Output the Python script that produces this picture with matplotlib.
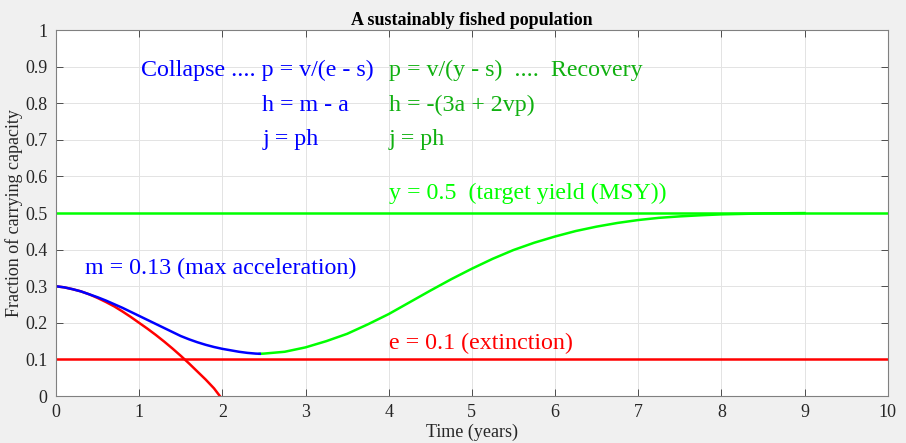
import numpy as np
import matplotlib.pyplot as plt

# Values
# blue: collapse branch, controlled descent
t_blue = [0, 0.1, 0.2, 0.3, 0.4, 0.5, 0.6, 0.7, 0.8, 0.9, 1.0, 1.1, 1.2, 1.3,
          1.4, 1.5, 1.6, 1.7, 1.8, 1.9, 2.0, 2.1, 2.2, 2.3, 2.4, 2.45]
p_blue = [0.300, 0.297, 0.292, 0.286, 0.278, 0.270, 0.261, 0.251, 0.241, 0.230,
          0.219, 0.208, 0.197, 0.186, 0.175, 0.164, 0.155, 0.147, 0.140, 0.134,
          0.129, 0.125, 0.121, 0.118, 0.116, 0.1155]

# red: uncontrolled collapse to zero
t_red = [0, 0.1, 0.2, 0.3, 0.4, 0.5, 0.6, 0.7, 0.8, 0.9, 1.0, 1.1, 1.2, 1.3,
         1.4, 1.5, 1.6, 1.7, 1.8, 1.9, 1.97]
p_red = [0.300, 0.297, 0.292, 0.286, 0.278, 0.268, 0.257, 0.245, 0.231, 0.216,
         0.200, 0.184, 0.167, 0.149, 0.130, 0.110, 0.089, 0.067, 0.045, 0.021, 0.0]

# green: recovery back to target yield
t_green = [2.45, 2.5, 2.75, 3.0, 3.25, 3.5, 3.75, 4.0, 4.25, 4.5, 4.75, 5.0, 5.25,
           5.5, 5.75, 6.0, 6.25, 6.5, 6.75, 7.0, 7.25, 7.5, 7.75, 8.0, 8.5, 9.0]
p_green = [0.1155, 0.116, 0.121, 0.133, 0.150, 0.170, 0.196, 0.224, 0.256, 0.288,
           0.319, 0.348, 0.375, 0.399, 0.419, 0.436, 0.451, 0.463, 0.473, 0.481,
           0.487, 0.491, 0.494, 0.4965, 0.499, 0.500]

y_target = 0.5
e_extinct = 0.1
x_lim = (0, 10)

blue = '#0000ff'
red = '#ff0000'
lime = '#00ff00'
dkgreen = '#10b010'

plt.rcParams['font.family'] = ['Liberation Serif', 'DejaVu Serif']

fig = plt.figure(figsize=(9.06, 4.43), dpi=100, facecolor='#f0f0f0')
ax = fig.add_axes([0.0618, 0.106, 0.918, 0.826])
ax.set_facecolor('white')

lw = 1.8
ax.plot(x_lim, [y_target, y_target], color=lime, lw=lw)
ax.plot(x_lim, [e_extinct, e_extinct], color=red, lw=lw)
ax.plot(t_red, p_red, color=red, lw=lw)
ax.plot(t_green, p_green, color=lime, lw=lw)
ax.plot(t_blue, p_blue, color=blue, lw=lw)

ax.set_xlim(*x_lim)
ax.set_ylim(0, 1)
ax.set_xticks(np.arange(0, 11, 1))
ax.set_yticks(np.arange(0, 1.01, 0.1))
ax.set_yticklabels(['0'] + [f'{v:.1f}' for v in np.arange(0.1, 0.95, 0.1)] + ['1'])
ax.grid(True, color='#e3e3e3', lw=0.7)
ax.set_axisbelow(True)
ax.tick_params(direction='in', length=5, width=0.7, top=True, right=True,
               labelsize=13, colors='#4d4d4d', labelcolor='#262626', pad=6)
for s in ax.spines.values():
    s.set_color('#808080')
    s.set_linewidth(0.8)

ax.set_title('A sustainably fished population', fontsize=13, fontweight='bold',
             pad=4, color='black')
ax.set_xlabel('Time (years)', fontsize=13, labelpad=2, color='#262626')
ax.set_ylabel('Fraction of carrying capacity', fontsize=13, labelpad=2, color='#262626')

fs = 17.3
ax.text(1.02, 0.89, 'Collapse .... p = v/(e - s)', color=blue, fontsize=fs, va='center')
ax.text(2.48, 0.795, 'h = m - a', color=blue, fontsize=fs, va='center')
ax.text(2.48, 0.70, 'j = ph', color=blue, fontsize=fs, va='center')
ax.text(4.0, 0.89, 'p = v/(y - s)  ....  Recovery', color=dkgreen, fontsize=fs, va='center')
ax.text(4.0, 0.795, 'h = -(3a + 2vp)', color=dkgreen, fontsize=fs, va='center')
ax.text(4.0, 0.70, 'j = ph', color=dkgreen, fontsize=fs, va='center')
ax.text(4.0, 0.555, 'y = 0.5  (target yield (MSY))', color=lime, fontsize=fs, va='center')
ax.text(0.35, 0.35, 'm = 0.13 (max acceleration)', color=blue, fontsize=fs, va='center')
ax.text(4.0, 0.145, 'e = 0.1 (extinction)', color=red, fontsize=fs, va='center')

fig.savefig('out.png', dpi=100, facecolor=fig.get_facecolor())
